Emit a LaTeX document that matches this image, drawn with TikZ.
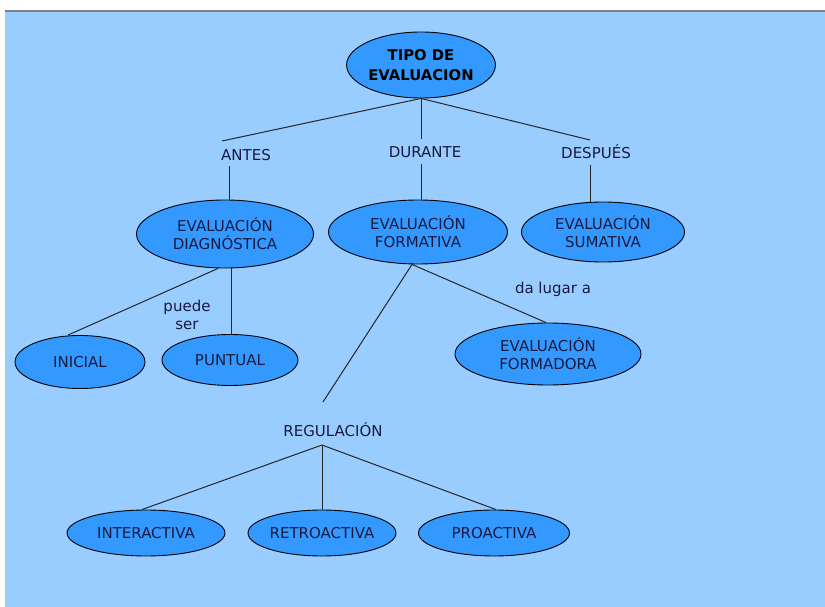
\documentclass[tikz,border=0pt]{standalone}
\usepackage{fontspec}
\setmainfont{DejaVu Sans}
\usetikzlibrary{shapes.geometric}
\definecolor{bgblue}{HTML}{99CCFF}
\definecolor{nodeblue}{HTML}{3399FF}
\definecolor{txt}{HTML}{1A1A40}
\tikzset{
  oval/.style={ellipse, draw=black, line width=0.9pt, fill=nodeblue, inner sep=0pt,
    align=center, font=\fontsize{15}{18}\selectfont, text=txt},
  lbl/.style={inner sep=1pt, align=center, font=\fontsize{15}{18}\selectfont, text=txt},
  conn/.style={draw=black!85, line width=1pt}
}
\begin{document}
\begin{tikzpicture}[x=1pt,y=-1pt]
\useasboundingbox (0,0) rectangle (825,607);
\fill[white] (0,0) rectangle (825,607);
\fill[bgblue] (5,11) rectangle (825,607);
\draw[gray, line width=1.2pt] (5,11) -- (825,11);

\node[oval, minimum width=142, minimum height=66, font=\bfseries\fontsize{14.8}{19.5}\selectfont, text=black] (tipo) at (421,65) {TIPO DE\\EVALUACION};

\node[lbl] (antes) at (246,155) {ANTES};
\node[lbl] (durante) at (425,152) {DURANTE};
\node[lbl] (despues) at (596,152) {DESPUÉS};
\coordinate (antesT) at (222,141);
\coordinate (antesB) at (229,166);
\coordinate (duranteT) at (421,139);
\coordinate (duranteB) at (421,164);
\coordinate (despuesT) at (590,140);
\coordinate (despuesB) at (590,165);

\node[oval, minimum width=177, minimum height=68] (diag) at (225,234) {EVALUACIÓN\\DIAGNÓSTICA};
\node[oval, minimum width=179, minimum height=64] (form) at (418,232) {EVALUACIÓN\\FORMATIVA};
\node[oval, minimum width=163, minimum height=60] (sum) at (603,232) {EVALUACIÓN\\SUMATIVA};

\node[oval, minimum width=130, minimum height=53] (inicial) at (80,362) {INICIAL};
\node[oval, minimum width=136, minimum height=51] (puntual) at (230,360) {PUNTUAL};
\node[lbl] (puede) at (187,315) {puede\\ser};

\node[lbl] (dalugar) at (553,289) {da lugar a};
\node[oval, minimum width=186, minimum height=62] (formadora) at (548,354) {EVALUACIÓN\\FORMADORA};

\node[lbl] (regul) at (333,430) {REGULACIÓN};
\coordinate (regulT) at (323,402);
\coordinate (regulB) at (322,445);

\node[oval, minimum width=158, minimum height=46] (inter) at (146,533) {INTERACTIVA};
\node[oval, minimum width=143, minimum height=46] (retro) at (322,533) {RETROACTIVA};
\node[oval, minimum width=151, minimum height=46] (pro) at (494,533) {PROACTIVA};

% connectors
\draw[conn] (tipo.south) -- (antesT);
\draw[conn] (tipo.south) -- (duranteT);
\draw[conn] (tipo.south) -- (despuesT);
\draw[conn] (antesB) -- (antesB |- diag.north);
\draw[conn] (duranteB) -- (duranteB |- form.north);
\draw[conn] (despuesB) -- (despuesB |- sum.north);
\draw[conn] ([xshift=-7pt]diag.south) -- ([xshift=-12pt]inicial.north);
\draw[conn] ([xshift=6pt]diag.south) |- (puntual.north);
\draw[conn] ([xshift=-6pt]form.south) -- (regulT);
\draw[conn] ([xshift=-6pt]form.south) -- ([xshift=-2pt]formadora.north);
\draw[conn] (regulB) -- ([xshift=-4pt]inter.north);
\draw[conn] (regulB) -- (retro.north);
\draw[conn] (regulB) -- ([xshift=2pt]pro.north);
\end{tikzpicture}
\end{document}
